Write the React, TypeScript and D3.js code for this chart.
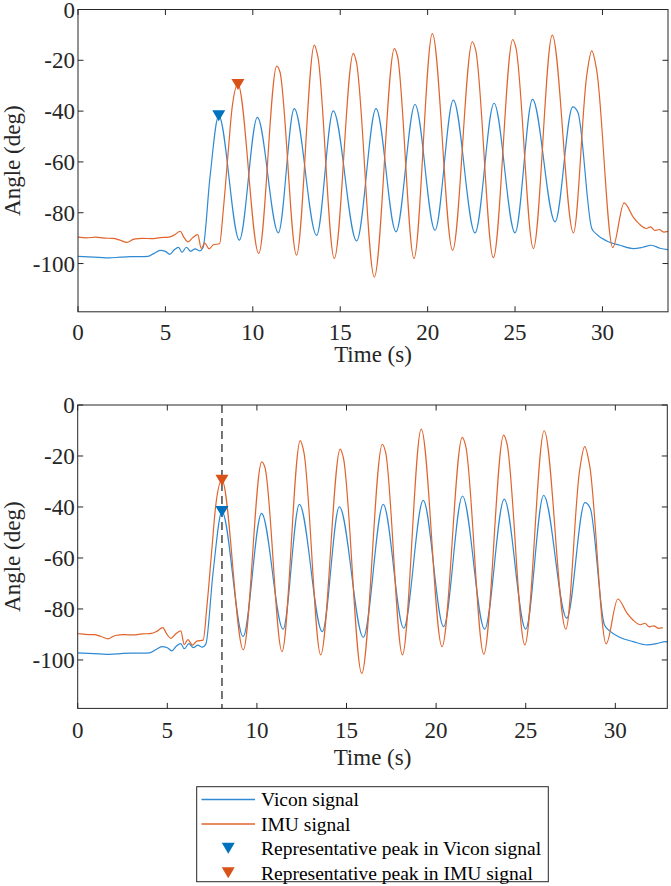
import React from "react";
import * as d3 from "d3";

// ---- data ----
const viconTime = [
  0, 0.6, 1.2, 1.8, 2.4, 3.0, 3.6, 4.0, 4.35, 4.7, 5.0, 5.25, 5.5, 5.75, 5.95, 6.2, 6.45, 6.7, 6.95, 7.15,
  7.55, 8.05, 9.23, 10.26, 11.46, 12.37, 13.65, 14.6, 15.94, 17.05, 18.19, 19.28, 20.42, 21.47, 22.71, 23.8,
  25.0, 26.0, 27.29, 28.3, 28.6, 29.39, 29.67, 30.24, 31.0, 31.77, 32.3, 32.8, 33.3, 33.75,
];
const viconAngle = [
  -97.2, -97.4, -97.6, -97.8, -97.5, -97.3, -97.3, -97.2, -96.0, -94.8, -95.2, -96.4, -94.6, -93.6, -95.6, -93.6, -95.2, -94.2, -95.0, -93.8,
  -66, -41.8, -90.8, -42.5, -87.9, -39, -88.9, -39.9, -91.1, -39, -87.5, -37.4, -86.9, -35.7, -87.9, -36.9,
  -87.9, -35.4, -83.6, -38.3, -40.5, -86.2, -88.5, -91.1, -92.8, -94.1, -93.6, -92.8, -94.0, -94.5,
];
const imuTime = [
  0, 0.5, 1.0, 1.5, 2.0, 2.4, 2.8, 3.2, 3.7, 4.2, 4.7, 5.2, 5.5, 5.85, 6.05, 6.3, 6.55, 6.85, 7.05, 7.25,
  7.5, 7.75, 8.1, 8.31, 8.6, 8.8, 9.15, 10.34, 11.37, 11.55, 12.5, 13.52, 13.72, 14.66, 15.75, 15.92, 16.95,
  18.1, 18.28, 19.22, 20.27, 21.43, 22.56, 22.75, 23.76, 24.87, 25.05, 26.05, 27.13, 28.34, 29.1, 29.39,
  29.67, 30.59, 31.24, 31.75, 32.1, 32.5, 32.75, 33.0, 33.25, 33.5, 33.75,
];
const imuAngle = [
  -89.6, -89.9, -89.6, -90.0, -90.1, -90.8, -91.7, -90.4, -90.1, -90.2, -89.8, -89.6, -88.8, -87.3, -89.6, -91.5, -89.9, -88.6, -94.0, -92.0,
  -94.2, -92.6, -92.2, -79, -55.4, -39.6, -29.5, -96, -22.3, -24.5, -96.7, -14, -18.5, -98, -17.3, -20.5, -105.3,
  -15.4, -18.5, -98, -9.5, -94.8, -12.7, -16, -97.7, -11.8, -15, -94.1, -10.1, -87.9, -26, -16.3,
  -23.9, -93.7, -76.1, -81.6, -84.4, -86.2, -85.6, -87.0, -86.6, -87.6, -87.3,
];
const IMU_LAG = 1.1; // seconds removed from IMU time in the aligned (lower) plot
const viconPeak = [8.05, -41.8];
const imuPeak = [9.15, -29.5];
const xTicks = [0, 5, 10, 15, 20, 25, 30];
const yTicks = [0, -20, -40, -60, -80, -100];
const legendLabels = [
  "Vicon signal",
  "IMU signal",
  "Representative peak in Vicon signal",
  "Representative peak in IMU signal",
];

const W = 671;
const H = 886;
const FONT = '"Liberation Serif", "Times New Roman", Times, serif';
const AXIS = "#262626";
const BLUE = "#0072BD";
const ORANGE = "#D95319";
const BLUE_LINE = "#2f8ad3";
const ORANGE_LINE = "#e0642c";
const Y_MIN = -119;

const panels = [
  { key: "top", left: 78, right: 668, top: 9.5, bottom: 311.8, xMax: 33.75, lag: 0, dashed: false, xTickBase: 340, xLabelBase: 362 },
  { key: "bot", left: 77.7, right: 667.3, top: 405, bottom: 708.4, xMax: 32.9, lag: IMU_LAG, dashed: true, xTickBase: 738, xLabelBase: 765 },
];

function triangle(cx: number, cy: number, w = 13, h = 11) {
  return `M${cx - w / 2},${cy - h / 2}L${cx + w / 2},${cy - h / 2}L${cx},${cy + h / 2}Z`;
}

function Panel({ p }: { p: (typeof panels)[number] }) {
  const x = d3.scaleLinear().domain([0, p.xMax]).range([p.left, p.right]);
  const y = d3.scaleLinear().domain([Y_MIN, 0]).range([p.bottom, p.top]);
  const line = d3
    .line<[number, number]>()
    .x((d) => x(d[0]))
    .y((d) => y(d[1]))
    .curve(d3.curveMonotoneX);
  const vicon = viconTime.map((t, i) => [t, viconAngle[i]] as [number, number]);
  const imu = imuTime.map((t, i) => [t - p.lag, imuAngle[i]] as [number, number]);
  const clipId = `clip-${p.key}`;
  const tl = 5.5;
  const midX = (p.left + p.right) / 2;
  const midY = (p.top + p.bottom) / 2;
  return (
    <g>
      <defs>
        <clipPath id={clipId}>
          <rect x={p.left} y={p.top} width={p.right - p.left} height={p.bottom - p.top} />
        </clipPath>
      </defs>
      <g clipPath={`url(#${clipId})`}>
        {p.dashed && (
          <line x1={x(viconPeak[0])} x2={x(viconPeak[0])} y1={p.top} y2={p.bottom} stroke="#3a3a3a" strokeWidth={1.4} strokeDasharray="8,5" />
        )}
        <path d={line(vicon) || ""} fill="none" stroke={BLUE_LINE} strokeWidth={1.2} />
        <path d={line(imu) || ""} fill="none" stroke={ORANGE_LINE} strokeWidth={1.2} />
      </g>
      <path d={triangle(x(viconPeak[0]), y(viconPeak[1]))} fill={BLUE} />
      <path d={triangle(x(imuPeak[0] - p.lag), y(imuPeak[1]))} fill={ORANGE} />
      <rect x={p.left} y={p.top} width={p.right - p.left} height={p.bottom - p.top} fill="none" stroke={AXIS} strokeWidth={1} />
      {xTicks.map((t) => (
        <g key={`xt${t}`}>
          <line x1={x(t)} x2={x(t)} y1={p.bottom} y2={p.bottom - tl} stroke={AXIS} />
          <line x1={x(t)} x2={x(t)} y1={p.top} y2={p.top + tl} stroke={AXIS} />
          <text x={x(t)} y={p.xTickBase} textAnchor="middle" fontSize={23} fill={AXIS} fontFamily={FONT}>
            {t}
          </text>
        </g>
      ))}
      {yTicks.map((v) => (
        <g key={`yt${v}`}>
          <line x1={p.left} x2={p.left + tl} y1={y(v)} y2={y(v)} stroke={AXIS} />
          <line x1={p.right} x2={p.right - tl} y1={y(v)} y2={y(v)} stroke={AXIS} />
          <text x={p.left - 3} y={y(v)} dy="0.35em" textAnchor="end" fontSize={23} fill={AXIS} fontFamily={FONT}>
            {v}
          </text>
        </g>
      ))}
      <text x={midX} y={p.xLabelBase} textAnchor="middle" fontSize={23} fill={AXIS} fontFamily={FONT}>
        Time (s)
      </text>
      <text transform={`translate(20,${midY}) rotate(-90)`} textAnchor="middle" fontSize={23} fill={AXIS} fontFamily={FONT}>
        Angle (deg)
      </text>
    </g>
  );
}

function Legend() {
  const box = { x: 196.7, y: 786.7, w: 351.6, h: 95 };
  const rows = [799.5, 824, 848.3, 872.7];
  const lineX1 = 201.5;
  const lineX2 = 255;
  const textX = 261;
  return (
    <g>
      <rect x={box.x} y={box.y} width={box.w} height={box.h} fill="#fff" stroke={AXIS} strokeWidth={1} />
      <line x1={lineX1} x2={lineX2} y1={rows[0]} y2={rows[0]} stroke={BLUE_LINE} strokeWidth={1.3} />
      <line x1={lineX1} x2={lineX2} y1={rows[1]} y2={rows[1]} stroke={ORANGE_LINE} strokeWidth={1.3} />
      <path d={triangle((lineX1 + lineX2) / 2, rows[2])} fill={BLUE} />
      <path d={triangle((lineX1 + lineX2) / 2, rows[3])} fill={ORANGE} />
      {legendLabels.map((s, i) => (
        <text key={s} x={textX} y={rows[i]} dy="0.35em" fontSize={19.5} fill="#000" fontFamily={FONT}>
          {s}
        </text>
      ))}
    </g>
  );
}

export default function App() {
  return (
    <svg width={W} height={H} viewBox={`0 0 ${W} ${H}`} style={{ position: "absolute", left: 0, top: 0, background: "#fff" }}>
      <rect width={W} height={H} fill="#fff" />
      {panels.map((p) => (
        <Panel key={p.key} p={p} />
      ))}
      <Legend />
    </svg>
  );
}
